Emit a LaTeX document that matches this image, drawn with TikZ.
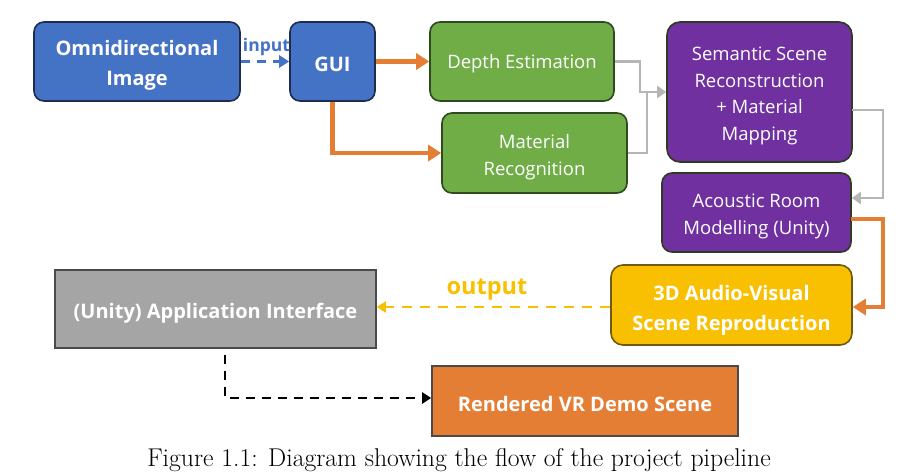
\documentclass[tikz,border=0pt]{standalone}
\usepackage{fontspec}
\setsansfont{Open Sans}
\usetikzlibrary{arrows.meta,calc}
\definecolor{cblue}{HTML}{4472C4}
\definecolor{cblueb}{HTML}{1F2D4D}
\definecolor{cgreen}{HTML}{70AD47}
\definecolor{cgreenb}{HTML}{2E4A1E}
\definecolor{cpurple}{HTML}{7030A0}
\definecolor{cpurpleb}{HTML}{2F3A22}
\definecolor{cyellow}{HTML}{F8C000}
\definecolor{cyellowb}{HTML}{6F5A10}
\definecolor{cgray}{HTML}{A5A5A5}
\definecolor{cgrayb}{HTML}{4A4A4A}
\definecolor{corange}{HTML}{E57E35}
\definecolor{cline}{HTML}{B5B5B5}
\tikzset{
  box/.style={draw, line width=1.6pt, inner sep=0pt},
  bluebox/.style={box, fill=cblue, draw=cblueb, rounded corners=10pt},
  greenbox/.style={box, fill=cgreen, draw=cgreenb, rounded corners=10pt},
  purplebox/.style={box, fill=cpurple, draw=cpurpleb, rounded corners=13pt},
  yellowbox/.style={box, fill=cyellow, draw=cyellowb, rounded corners=12pt},
  graybox/.style={box, fill=cgray, draw=cgrayb},
  orangebox/.style={box, fill=corange, draw=cgrayb},
  tx/.style={text=white, align=center, inner sep=0pt, yshift=-4pt},
  tx1/.style={text=white, align=center, inner sep=0pt, yshift=-2.5pt},
  bigb/.style={font=\sffamily\bfseries\fontsize{20}{29.5}\selectfont},
  midn/.style={font=\sffamily\fontsize{18.5}{26.5}\selectfont},
  oarrow/.style={draw=corange, line width=4.5pt, -{Triangle[length=13pt,width=16pt]}},
  garrow/.style={draw=cline, line width=2.8pt, -{Triangle[length=9pt,width=12pt]}},
  barrow/.style={draw=cblue, line width=2.8pt, dash pattern=on 9pt off 7pt, -{Triangle[length=10pt,width=12pt]}},
  yarrow/.style={draw=cyellow, line width=2.8pt, dash pattern=on 10pt off 8pt, -{Triangle[length=9pt,width=11pt]}},
  karrow/.style={draw=black, line width=2.6pt, dash pattern=on 9pt off 7pt, -{Triangle[length=9pt,width=11pt]}},
}
\begin{document}
\begin{tikzpicture}[x=1pt,y=-1pt]
\useasboundingbox (0,0) rectangle (915,472);
\node[bluebox, minimum width=206pt, minimum height=79pt, label={[tx,bigb]center:{Omnidirectional\\Image}}] (omni) at (137,61.5) {};
\node[bluebox, minimum width=85pt, minimum height=79pt, label={[tx1,bigb]center:GUI}] (gui) at (332.5,61.5) {};
\node[greenbox, minimum width=184pt, minimum height=79pt, label={[tx1,midn]center:Depth Estimation}] (depth) at (522,61.5) {};
\node[greenbox, minimum width=185pt, minimum height=80pt, label={[tx,midn]center:{Material\\Recognition}}] (mat) at (534.5,153) {};
\node[purplebox, minimum width=185pt, minimum height=140pt, label={[tx,midn]center:{Semantic Scene\\Reconstruction\\+ Material\\Mapping}}] (sem) at (759.5,92) {};
\node[purplebox, minimum width=189pt, minimum height=79pt, rounded corners=10pt, label={[tx,midn]center:{Acoustic Room\\Modelling (Unity)}}] (aco) at (756.5,212.5) {};
\node[yellowbox, minimum width=241pt, minimum height=80pt, label={[tx,bigb,text depth=0pt,yshift=1pt]center:{3D Audio-Visual\\Scene Reproduction}}] (av) at (731.5,305) {};
\node[graybox, minimum width=321pt, minimum height=78pt, label={[tx,bigb]center:(Unity) Application Interface}] (app) at (215.5,309) {};
\node[orangebox, minimum width=306pt, minimum height=70pt, label={[tx1,bigb]center:Rendered VR Demo Scene}] (vr) at (585,401) {};
\node[font=\fontsize{25.7}{30}\selectfont, inner sep=0pt] (cap) at (459,460) {Figure 1.1: Diagram showing the flow of the project pipeline};

\node[font=\sffamily\bfseries\fontsize{17.5}{20}\selectfont, text=cblue, inner sep=0pt] (inlab) at (266.5,47) {input};
\node[font=\sffamily\bfseries\fontsize{23.5}{26}\selectfont, text=cyellow, inner sep=0pt] (outlab) at (487,290) {output};

\draw[barrow] (omni.east) -- (gui.west);
\draw[oarrow] (gui.east) -- (depth.west);
\draw[oarrow] (gui.south) |- (mat.west);
\coordinate (j) at (647,92);
\draw[cline, line width=2.8pt] (depth.east) -- (640,61.5) -- (640,92) -- (j);
\draw[cline, line width=2.8pt] (mat.east) -- (647,153) -- (j);
\draw[garrow] (j) -- (sem.west |- j);
\draw[garrow] (852,110) -- (883,110) -- (883,198) -- (aco.east |- 0,198);
\draw[oarrow] (851,219) -- (883,219) -- (883,307) -- (av.east |- 0,307);
\draw[yarrow] (av.west |- 0,307) -- (app.east |- 0,307);
\coordinate (ks) at (225,355);
\draw[karrow] (ks) -- (225,398) -- (vr.west |- 0,398);
\end{tikzpicture}
\end{document}
